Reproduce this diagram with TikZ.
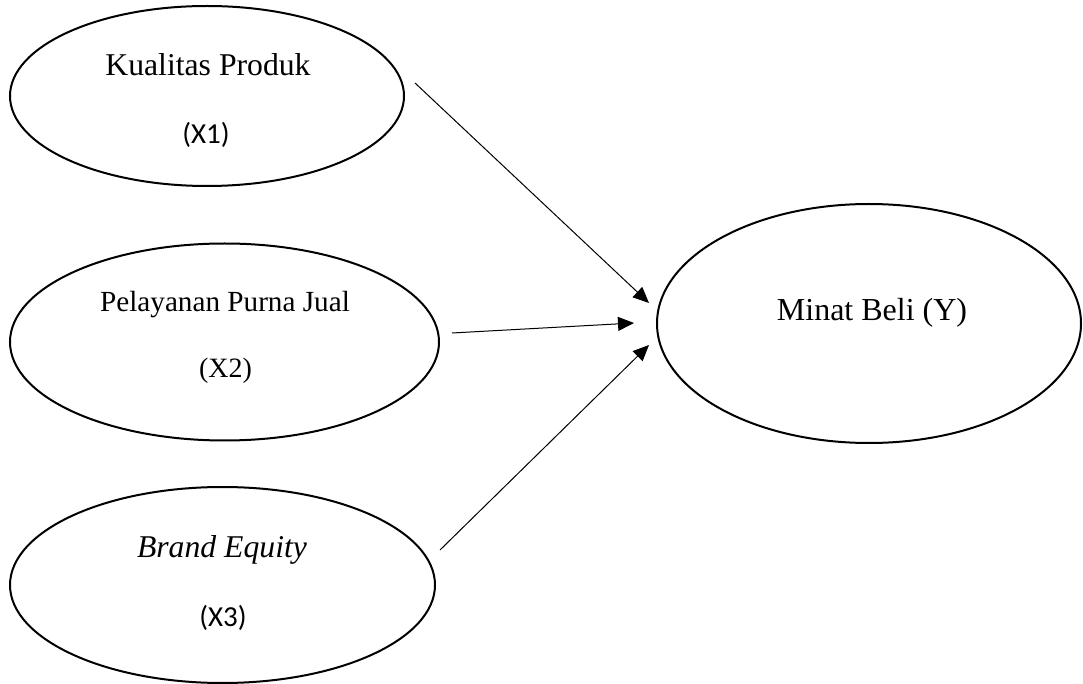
\documentclass[tikz,border=0pt]{standalone}
\usepackage{fontspec}
\setmainfont{Liberation Serif}
\newfontfamily\calfont{Carlito}
\usetikzlibrary{shapes.geometric,arrows.meta}
\tikzset{
  var/.style={draw, ellipse, line width=1pt, inner sep=0pt},
  lbl/.style={anchor=base, inner sep=0pt},
  link/.style={line width=0.5pt, -{Triangle[length=8pt,width=7pt]}}
}
\begin{document}
\begin{tikzpicture}[x=0.5pt, y=-0.5pt]
\useasboundingbox (0,0) rectangle (1083,684);
% ellipses
\node[var, minimum width=197pt, minimum height=90pt] (x1) at (207,96) {};
\node[var, minimum width=214.5pt, minimum height=98.5pt] (x2) at (224.5,342) {};
\node[var, minimum width=212.5pt, minimum height=98pt] (x3) at (222.5,585) {};
\node[var, minimum width=212pt, minimum height=119.5pt] (y) at (869,323.5) {};
% labels
\node[lbl, font=\fontsize{15.85}{18}\selectfont] (t1) at (208,75.5) {Kualitas Produk};
\node[lbl, font=\calfont\fontsize{14.5}{17}\selectfont] (t1b) at (206,144) {(X1)};
\node[lbl, font=\fontsize{14.6}{17}\selectfont] (t2) at (225,311.7) {Pelayanan Purna Jual};
\node[lbl, font=\fontsize{14}{17}\selectfont] (t2b) at (225.5,378) {(X2)};
\node[lbl, font=\itshape\fontsize{15.85}{18}\selectfont] (t3) at (222,558) {Brand Equity};
\node[lbl, font=\calfont\fontsize{14.5}{17}\selectfont] (t3b) at (223,626.7) {(X3)};
\node[lbl, font=\fontsize{16}{19}\selectfont] (ty) at (872,320.7) {Minat Beli (Y)};
% connector ends
\coordinate (s1) at (415,83);
\coordinate (e1) at (649,303);
\coordinate (s2) at (452,333);
\coordinate (e2) at (634,323);
\coordinate (s3) at (440,550);
\coordinate (e3) at (649,345);
\draw[link] (s1) -- (e1);
\draw[link] (s2) -- (e2);
\draw[link] (s3) -- (e3);
\end{tikzpicture}
\end{document}
